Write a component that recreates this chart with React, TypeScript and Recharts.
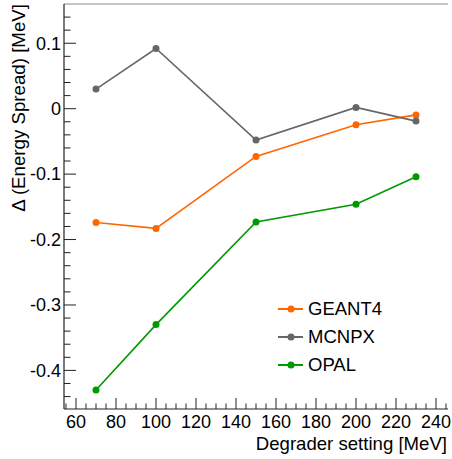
import { LineChart, Line, XAxis, YAxis, ReferenceLine } from 'recharts';

const degrader = [70, 100, 150, 200, 230];
const geant4 = [-0.174, -0.183, -0.073, -0.0245, -0.0095];
const mcnpx = [0.03, 0.092, -0.048, 0.002, -0.019];
const opal = [-0.43, -0.33, -0.173, -0.146, -0.104];

const xMajor = [60, 80, 100, 120, 140, 160, 180, 200, 220, 240];
const yMajor = [-0.4, -0.3, -0.2, -0.1, 0, 0.1];

const FONT = '"Liberation Sans", Arial, Helvetica, sans-serif';
const AXIS = '#222';
const FRAME = '#8a8a8a';

const series = [
  { key: 'geant4', name: 'GEANT4', color: '#ff6600' },
  { key: 'mcnpx', name: 'MCNPX', color: '#666666' },
  { key: 'opal', name: 'OPAL', color: '#009900' },
];

const rows = degrader.map((d, i) => ({
  degrader: d,
  geant4: geant4[i],
  mcnpx: mcnpx[i],
  opal: opal[i],
}));

// minor ticks: every 5 MeV on x, every 0.02 MeV on y
const xTicks: number[] = [];
for (let v = 55; v <= 245; v += 5) xTicks.push(v);
const yTicks: number[] = [];
for (let k = -22; k <= 7; k++) yTicks.push(+(k * 0.02).toFixed(2));

const isMajorX = (v: number) => xMajor.includes(v);
const isMajorY = (v: number) => yMajor.some((m) => Math.abs(m - v) < 1e-6);

const XTick = (props: any) => {
  const { x, y, payload } = props;
  const major = isMajorX(payload.value);
  return (
    <g>
      <line x1={x} x2={x} y1={y} y2={y - (major ? 11 : 5.5)} stroke={AXIS} strokeWidth={1} />
      {major && (
        <text x={x} y={y + 19} textAnchor="middle" fontSize={18} fontFamily={FONT} fill="#000">
          {payload.value}
        </text>
      )}
    </g>
  );
};

const YTick = (props: any) => {
  const { x, y, payload } = props;
  const major = isMajorY(payload.value);
  const label = Math.abs(payload.value) < 1e-9 ? '0' : String(+payload.value.toFixed(1));
  return (
    <g>
      <line x1={x} x2={x + (major ? 12 : 6.5)} y1={y} y2={y} stroke={AXIS} strokeWidth={1} />
      {major && (
        <text x={x - 3} y={y} dy="0.35em" textAnchor="end" fontSize={18} fontFamily={FONT} fill="#000">
          {label}
        </text>
      )}
    </g>
  );
};

const LegendBox = () => (
  <svg width={140} height={90} style={{ position: 'absolute', left: 276, top: 295 }}>
    {series.map((s, i) => {
      const cy = 14 + i * 28;
      return (
        <g key={s.key}>
          <line x1={2} x2={27} y1={cy} y2={cy} stroke={s.color} strokeWidth={2} />
          <circle cx={15} cy={cy} r={3.5} fill={s.color} />
          <text x={32} y={cy} dy="0.35em" fontSize={18.5} fontFamily={FONT} fill="#000">
            {s.name}
          </text>
        </g>
      );
    })}
  </svg>
);

export default function App() {
  return (
    <div style={{ position: 'absolute', left: 0, top: 0, width: 452, height: 459, fontFamily: FONT, background: '#fff' }}>
      <LineChart width={452} height={459} data={rows} margin={{ top: 4, right: 4, bottom: 0, left: 0 }}>
        <XAxis
          dataKey="degrader"
          type="number"
          domain={[54, 246]}
          allowDataOverflow
          ticks={xTicks}
          interval={0}
          height={50}
          tickSize={0}
          tickMargin={0}
          tickLine={false}
          axisLine={{ stroke: AXIS, strokeWidth: 1.2 }}
          tick={<XTick />}
          label={{
            value: 'Degrader setting [MeV]',
            content: (p: any) => (
              <text
                x={p.viewBox.x + p.viewBox.width - 1}
                y={p.viewBox.y + 41}
                textAnchor="end"
                fontSize={18.6}
                fontFamily={FONT}
                fill="#000"
              >
                Degrader setting [MeV]
              </text>
            ),
          }}
        />
        <YAxis
          type="number"
          domain={[-0.459, 0.16]}
          allowDataOverflow
          ticks={yTicks}
          interval={0}
          width={64}
          tickSize={0}
          tickMargin={0}
          tickLine={false}
          axisLine={{ stroke: AXIS, strokeWidth: 1.2 }}
          tick={<YTick />}
          label={{
            value: 'Δ (Energy Spread) [MeV]',
            content: () => (
              <text
                x={25}
                y={4}
                transform="rotate(-90 25 4)"
                textAnchor="end"
                fontSize={18.7}
                fontFamily={FONT}
                fill="#000"
              >
                Δ (Energy Spread) [MeV]
              </text>
            ),
          }}
        />
        <YAxis
          yAxisId="right"
          type="number"
          domain={[-0.459, 0.16]}
          orientation="right"
          width={0}
          tick={false}
          tickLine={false}
          axisLine={{ stroke: FRAME }}
        />
        <ReferenceLine y={0.16} stroke={FRAME} strokeWidth={1} />
        {series.map((s) => (
          <Line
            key={s.key}
            dataKey={s.key}
            name={s.name}
            stroke={s.color}
            strokeWidth={1.6}
            dot={{ r: 3.5, fill: s.color, stroke: s.color, strokeWidth: 0 }}
            isAnimationActive={false}
          />
        ))}
      </LineChart>
      <LegendBox />
    </div>
  );
}
